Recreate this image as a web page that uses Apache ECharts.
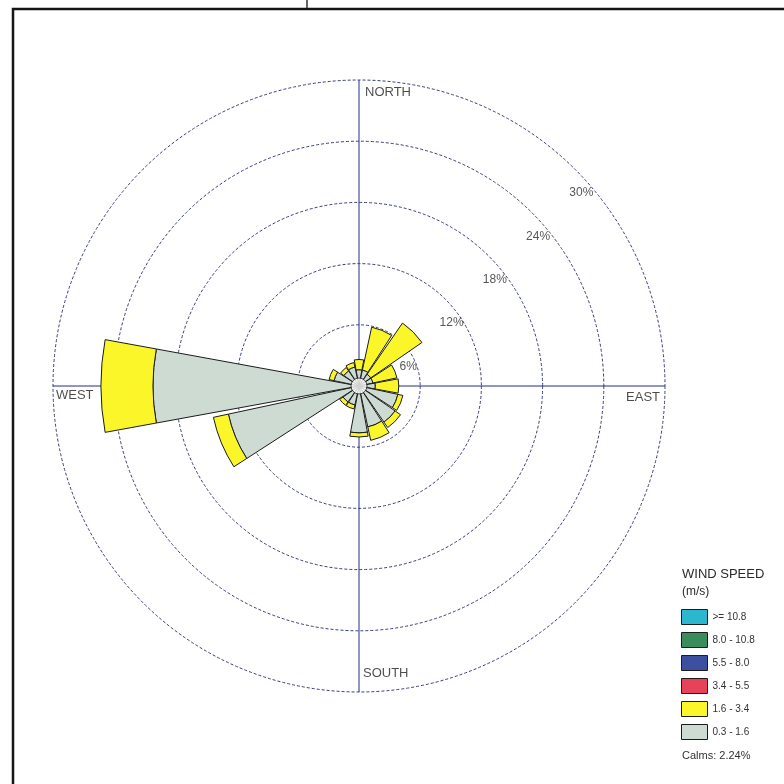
<!DOCTYPE html>
<html>
<head>
<meta charset="utf-8">
<script src="https://cdn.jsdelivr.net/npm/echarts@6/dist/echarts.min.js"></script>
<style>
html, body { margin: 0; padding: 0; background: #ffffff; }
#chart { width: 784px; height: 784px; }
</style>
</head>
<body>
<div id="chart"></div>
<script>
// 16 compass sectors, clockwise from north
const directions = ['N', 'NNE', 'NE', 'ENE', 'E', 'ESE', 'SE', 'SSE', 'S', 'SSW', 'SW', 'WSW', 'W', 'WNW', 'NW', 'NNW'];

// frequency (%) per sector for each wind speed class (m/s)
const speed03to16  = [1.6, 1.6, 1.4, 1.4, 1.6, 3.9, 4.3, 4.1, 4.6, 1.9, 1.9, 13.1, 20.2, 2.5, 1.8, 1.9];
const speed16to34  = [1.0, 4.3, 6.1, 2.4, 2.3, 0.5, 0.65, 1.35, 0.4, 0.4, 0.4, 1.5, 5.1, 0.5, 0.4, 0.45];
const speed34to55  = [0, 0, 0, 0, 0, 0, 0, 0, 0, 0, 0, 0, 0, 0, 0, 0];
const speed55to80  = [0, 0, 0, 0, 0, 0, 0, 0, 0, 0, 0, 0, 0, 0, 0, 0];
const speed80to108 = [0, 0, 0, 0, 0, 0, 0, 0, 0, 0, 0, 0, 0, 0, 0, 0];
const speedAbove108 = [0, 0, 0, 0, 0, 0, 0, 0, 0, 0, 0, 0, 0, 0, 0, 0];

// speed classes, innermost first
const speedClasses = ['0.3 - 1.6', '1.6 - 3.4', '3.4 - 5.5', '5.5 - 8.0', '8.0 - 10.8', '>= 10.8'];
const classColors = ['#cddbd3', '#fbf62a', '#e8415a', '#3d4fa0', '#3a8c5c', '#2cb6cf'];

// ring ticks (%)
const ringValues = [6, 12, 18, 24, 30];
const ringLabels = ['6%', '12%', '18%', '24%', '30%'];

// compass labels and their bearing (degrees)
const compassLabels = ['NORTH', 'EAST', 'SOUTH', 'WEST'];
const compassBearings = [0, 90, 180, 270];

const calmsPercent = 2.24;

const CENTER = [359, 386];
const RADIUS = 306;
const FONT = '"Liberation Sans", Arial, sans-serif';

const classData = [speed03to16, speed16to34, speed34to55, speed55to80, speed80to108, speedAbove108];

const barSeries = classData.map((values, i) => ({
  type: 'bar',
  name: speedClasses[i],
  coordinateSystem: 'polar',
  polarIndex: 0,
  stack: 'wind',
  barCategoryGap: '8%',
  data: values.map(v => (v > 0 ? v : '-')),
  itemStyle: { color: classColors[i], borderColor: '#1c1c1c', borderWidth: 1 },
  silent: true,
  z: 3
}));

// per-label placement of the compass words inside the outer ring
const compassLabelStyles = [
  { align: 'left',  verticalAlign: 'middle', offset: [6, 12] },
  { align: 'right', verticalAlign: 'middle', offset: [-5, 11] },
  { align: 'left',  verticalAlign: 'middle', offset: [4, -19] },
  { align: 'left',  verticalAlign: 'middle', offset: [3, 9] }
];

const compassSeries = {
  type: 'scatter',
  coordinateSystem: 'polar',
  polarIndex: 1,
  symbolSize: 0,
  silent: true,
  z: 6,
  data: compassLabels.map((name, i) => ({
    value: [ringValues[ringValues.length - 1], compassBearings[i]],
    label: Object.assign({
      show: true,
      position: 'inside',
      formatter: name,
      color: '#1e1e1e',
      fontFamily: FONT,
      fontSize: 13
    }, compassLabelStyles[i])
  }))
};

const ringLabelSeries = {
  type: 'scatter',
  coordinateSystem: 'polar',
  polarIndex: 0,
  symbolSize: 0,
  silent: true,
  z: 6,
  data: ringValues.map((v, i) => ({
    value: [v, 'NE'],
    label: {
      show: true,
      position: 'inside',
      offset: [6, 23.5],
      formatter: ringLabels[i],
      color: '#2a2a2a',
      fontFamily: FONT,
      fontSize: 12
    }
  }))
};

// calm circle at the hub
const calmSeries = {
  type: 'scatter',
  coordinateSystem: 'polar',
  polarIndex: 0,
  symbol: 'circle',
  symbolSize: 16,
  silent: true,
  z: 5,
  itemStyle: { color: '#ffffff', borderColor: '#1c1c1c', borderWidth: 1 },
  data: [[0, 'N']]
};

const option = {
  animation: false,
  backgroundColor: '#ffffff',
  polar: [
    { center: CENTER, radius: RADIUS },
    { center: CENTER, radius: RADIUS }
  ],
  angleAxis: [
    {
      polarIndex: 0,
      type: 'category',
      data: directions,
      startAngle: 90 + 360 / directions.length / 2,
      clockwise: true,
      boundaryGap: true,
      show: false
    },
    {
      polarIndex: 1,
      type: 'value',
      min: 0,
      max: 360,
      interval: 90,
      startAngle: 90,
      clockwise: true,
      axisLine: { show: false },
      axisTick: { show: false },
      axisLabel: { show: false },
      splitLine: { show: true, lineStyle: { color: '#1f2f86', width: 1 } }
    }
  ],
  radiusAxis: [
    { polarIndex: 0, type: 'value', min: 0, max: 30, show: false },
    {
      polarIndex: 1,
      type: 'value',
      min: 0,
      max: 30,
      interval: 6,
      axisLine: { show: false },
      axisTick: { show: false },
      axisLabel: { show: false },
      splitLine: { show: true, lineStyle: { color: '#383d78', width: 1, type: [3, 2] } }
    }
  ],
  legend: {
    orient: 'vertical',
    left: 681,
    top: 609,
    padding: 0,
    itemWidth: 26,
    itemHeight: 15,
    itemGap: 7,
    icon: 'rect',
    selectedMode: false,
    data: speedClasses.slice().reverse(),
    itemStyle: { borderColor: '#1c1c1c', borderWidth: 1 },
    textStyle: { fontFamily: FONT, fontSize: 10, color: '#333333', lineHeight: 12 }
  },
  graphic: [
    {
      type: 'rect',
      silent: true,
      shape: { x: 13, y: 9, width: 900, height: 900 },
      style: { fill: 'none', stroke: '#151515', lineWidth: 2.5 }
    },
    {
      type: 'line',
      silent: true,
      shape: { x1: 307, y1: 0, x2: 307, y2: 8 },
      style: { stroke: '#333333', lineWidth: 1.5 }
    },
    {
      type: 'text',
      left: 682,
      top: 568,
      silent: true,
      style: { text: 'WIND SPEED', fontFamily: FONT, fontSize: 13, fill: '#2a2a2a' }
    },
    {
      type: 'text',
      left: 682,
      top: 586,
      silent: true,
      style: { text: '(m/s)', fontFamily: FONT, fontSize: 12, fill: '#2a2a2a' }
    },
    {
      type: 'text',
      left: 682,
      top: 750,
      silent: true,
      style: { text: 'Calms: ' + calmsPercent.toFixed(2) + '%', fontFamily: FONT, fontSize: 11, fill: '#333333' }
    }
  ],
  series: barSeries.concat([calmSeries, ringLabelSeries, compassSeries])
};

const chart = echarts.init(document.getElementById('chart'), null, { renderer: 'canvas' });
chart.setOption(option);
</script>
</body>
</html>
